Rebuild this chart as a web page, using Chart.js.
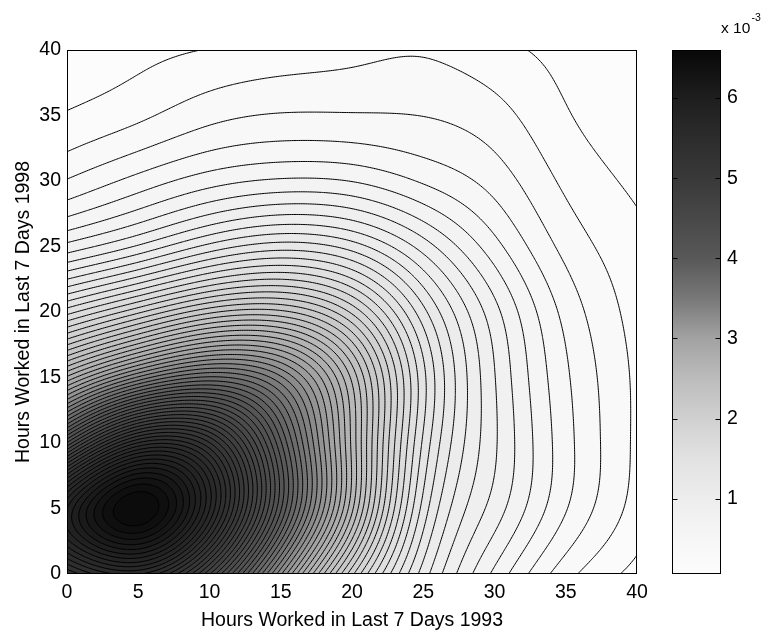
<!DOCTYPE html>
<html>
<head>
<meta charset="utf-8">
<script src="https://cdn.jsdelivr.net/npm/chart.js@4.4.0/dist/chart.umd.min.js"></script>
<style>
  html, body { margin: 0; padding: 0; background: #fff; }
  #wrap { position: relative; width: 770px; height: 630px; }
  #wrap canvas { position: absolute; left: 0; top: 0; }
</style>
</head>
<body>
<div id="wrap">
  <canvas id="main" width="770" height="630"></canvas>
  <canvas id="bar" width="770" height="630"></canvas>
</div>
<script>
const gridX = [0, 5, 10, 15, 20, 25, 30, 35, 40];
const gridY = [0, 5, 10, 15, 20, 25, 30, 35, 40];

// density (x 10^-3), one list per 1998 value, running over the 1993 values
const densityY0  = [5.2, 5.5, 4.7, 3.3, 2.0, 1.12, 0.64, 0.30, 0.13];
const densityY5  = [5.9, 6.6, 5.7, 4.1, 2.6, 1.33, 0.82, 0.47, 0.22];
const densityY10 = [4.4, 5.4, 5.2, 4.0, 2.65, 1.45, 0.88, 0.50, 0.24];
const densityY15 = [2.8, 3.4, 3.7, 3.4, 2.55, 1.5, 0.87, 0.48, 0.24];
const densityY20 = [1.63, 1.95, 2.25, 2.3, 1.95, 1.3, 0.80, 0.43, 0.22];
const densityY25 = [0.80, 0.98, 1.2, 1.32, 1.22, 0.92, 0.60, 0.33, 0.19];
const densityY30 = [0.37, 0.50, 0.62, 0.68, 0.66, 0.55, 0.42, 0.24, 0.14];
const densityY35 = [0.17, 0.24, 0.33, 0.37, 0.37, 0.36, 0.30, 0.17, 0.10];
const densityY40 = [0.08, 0.13, 0.165, 0.20, 0.23, 0.25, 0.19, 0.13, 0.07];
const densityRows = [densityY0, densityY5, densityY10, densityY15, densityY20,
                     densityY25, densityY30, densityY35, densityY40];

// axes
const axisTicks = [0, 5, 10, 15, 20, 25, 30, 35, 40];
const colorbarTicks = [1, 2, 3, 4, 5, 6];
const densityMin = 0.06;
const densityMax = 6.6;
const levelCount = 64;

// gray colormap (high density = dark)
const cmapValues = [0.06, 0.5, 1.0, 1.5, 2.0, 2.5, 3.0, 3.5, 4.0, 4.5, 5.0, 5.5, 6.0, 6.6];
const cmapGrays  = [252, 246, 237, 226, 208, 188, 162, 120, 88, 72, 57, 44, 30, 8];

const fontFamily = '"Liberation Sans", Arial, Helvetica, sans-serif';
const tickFont = { family: fontFamily, size: 19.5, lineHeight: 1.2 };
const titleFont = { family: fontFamily, size: 19.5, lineHeight: 1 };

// contour levels, evenly spaced inside the data range
const levelStep = (densityMax - densityMin) / (levelCount + 1);
const levels = [];
for (let i = 1; i <= levelCount; i++) levels.push(densityMin + i * levelStep);

function grayFor(v) {
  if (v <= cmapValues[0]) return cmapGrays[0];
  for (let i = 1; i < cmapValues.length; i++) {
    if (v <= cmapValues[i]) {
      const t = (v - cmapValues[i - 1]) / (cmapValues[i] - cmapValues[i - 1]);
      return cmapGrays[i - 1] + t * (cmapGrays[i] - cmapGrays[i - 1]);
    }
  }
  return cmapGrays[cmapGrays.length - 1];
}

// natural cubic spline helpers
function splineSecond(xs, ys) {
  const n = xs.length;
  const y2 = new Array(n).fill(0), u = new Array(n).fill(0);
  for (let i = 1; i < n - 1; i++) {
    const sig = (xs[i] - xs[i - 1]) / (xs[i + 1] - xs[i - 1]);
    const p = sig * y2[i - 1] + 2;
    y2[i] = (sig - 1) / p;
    u[i] = (ys[i + 1] - ys[i]) / (xs[i + 1] - xs[i]) - (ys[i] - ys[i - 1]) / (xs[i] - xs[i - 1]);
    u[i] = (6 * u[i] / (xs[i + 1] - xs[i - 1]) - sig * u[i - 1]) / p;
  }
  for (let k = n - 2; k >= 0; k--) y2[k] = y2[k] * y2[k + 1] + u[k];
  return y2;
}
function splineAt(xs, ys, y2, x) {
  let lo = 0, hi = xs.length - 1;
  while (hi - lo > 1) {
    const m = (hi + lo) >> 1;
    if (xs[m] > x) hi = m; else lo = m;
  }
  const h = xs[hi] - xs[lo];
  const a = (xs[hi] - x) / h, b = (x - xs[lo]) / h;
  return a * ys[lo] + b * ys[hi] + ((a * a * a - a) * y2[lo] + (b * b * b - b) * y2[hi]) * h * h / 6;
}

// smooth the read grid onto a fine sampling for drawing
const FINE = 321;
let fieldCache = null;
function fineField() {
  if (fieldCache) return fieldCache;
  const fx = [], fy = [];
  for (let i = 0; i < FINE; i++) {
    fx.push(gridX[0] + (gridX[gridX.length - 1] - gridX[0]) * i / (FINE - 1));
    fy.push(gridY[0] + (gridY[gridY.length - 1] - gridY[0]) * i / (FINE - 1));
  }
  const rows = densityRows.map(r => {
    const d2 = splineSecond(gridX, r);
    return fx.map(x => splineAt(gridX, r, d2, x));
  });
  const z = [];
  for (let k = 0; k < FINE; k++) z.push(new Float64Array(FINE));
  for (let i = 0; i < FINE; i++) {
    const col = rows.map(r => r[i]);
    const d2 = splineSecond(gridY, col);
    for (let k = 0; k < FINE; k++) {
      z[k][i] = Math.max(densityMin, splineAt(gridY, col, d2, fy[k]));
    }
  }
  fieldCache = { fx, fy, z };
  return fieldCache;
}

function bandIndex(v) {
  let k = Math.floor((v - densityMin) / levelStep);
  if (k < 0) k = 0;
  if (k > levelCount) k = levelCount;
  return k;
}

const contourPlugin = {
  id: 'contourFill',
  beforeDatasetsDraw(chart) {
    const { ctx, chartArea: a, scales } = chart;
    const xs = scales.x, ys = scales.y;
    const { fx, fy, z } = fineField();
    const step = fx[1] - fx[0];

    const bandGray = [];
    for (let k = 0; k <= levelCount; k++) bandGray.push(Math.round(grayFor(densityMin + k * levelStep)));

    // filled bands
    const left = Math.round(a.left), top = Math.round(a.top);
    const w = Math.round(a.right) - left, h = Math.round(a.bottom) - top;
    const off = document.createElement('canvas');
    off.width = w; off.height = h;
    const octx = off.getContext('2d');
    const img = octx.createImageData(w, h);
    const colIdx = new Int32Array(w), colT = new Float64Array(w);
    for (let px = 0; px < w; px++) {
      let f = (xs.getValueForPixel(left + px + 0.5) - fx[0]) / step;
      f = Math.min(Math.max(f, 0), FINE - 1.0001);
      colIdx[px] = Math.floor(f); colT[px] = f - colIdx[px];
    }
    for (let py = 0; py < h; py++) {
      let g = (ys.getValueForPixel(top + py + 0.5) - fy[0]) / step;
      g = Math.min(Math.max(g, 0), FINE - 1.0001);
      const k0 = Math.floor(g), tk = g - k0;
      const r0 = z[k0], r1 = z[k0 + 1];
      for (let px = 0; px < w; px++) {
        const i0 = colIdx[px], t = colT[px];
        const v = (r0[i0] * (1 - t) + r0[i0 + 1] * t) * (1 - tk) + (r1[i0] * (1 - t) + r1[i0 + 1] * t) * tk;
        const gray = bandGray[bandIndex(v)];
        const o = (py * w + px) * 4;
        img.data[o] = gray; img.data[o + 1] = gray; img.data[o + 2] = gray; img.data[o + 3] = 255;
      }
    }
    octx.putImageData(img, 0, 0);
    ctx.drawImage(off, left, top);

    // contour lines (marching squares on the fine sampling)
    const PX = fx.map(v => xs.getPixelForValue(v));
    const PY = fy.map(v => ys.getPixelForValue(v));
    ctx.save();
    ctx.beginPath();
    ctx.rect(a.left, a.top, a.right - a.left, a.bottom - a.top);
    ctx.clip();
    ctx.strokeStyle = '#000';
    ctx.lineWidth = 1;
    ctx.lineJoin = 'round';
    for (const L of levels) {
      ctx.beginPath();
      for (let k = 0; k < FINE - 1; k++) {
        const ra = z[k], rb = z[k + 1];
        for (let i = 0; i < FINE - 1; i++) {
          const v00 = ra[i], v10 = ra[i + 1], v11 = rb[i + 1], v01 = rb[i];
          const s00 = v00 >= L, s10 = v10 >= L, s11 = v11 >= L, s01 = v01 >= L;
          if (s00 === s10 && s10 === s11 && s11 === s01) continue;
          const pts = [];
          if (s00 !== s10) { const t = (L - v00) / (v10 - v00); pts.push([PX[i] + t * (PX[i + 1] - PX[i]), PY[k]]); }
          if (s10 !== s11) { const t = (L - v10) / (v11 - v10); pts.push([PX[i + 1], PY[k] + t * (PY[k + 1] - PY[k])]); }
          if (s01 !== s11) { const t = (L - v01) / (v11 - v01); pts.push([PX[i] + t * (PX[i + 1] - PX[i]), PY[k + 1]]); }
          if (s00 !== s01) { const t = (L - v00) / (v01 - v00); pts.push([PX[i], PY[k] + t * (PY[k + 1] - PY[k])]); }
          if (pts.length === 2) {
            ctx.moveTo(pts[0][0], pts[0][1]); ctx.lineTo(pts[1][0], pts[1][1]);
          } else if (pts.length === 4) {
            ctx.moveTo(pts[0][0], pts[0][1]); ctx.lineTo(pts[1][0], pts[1][1]);
            ctx.moveTo(pts[2][0], pts[2][1]); ctx.lineTo(pts[3][0], pts[3][1]);
          }
        }
      }
      ctx.stroke();
    }
    ctx.restore();
  },
  afterDraw(chart) {
    const { ctx, chartArea: a } = chart;
    ctx.save();
    ctx.strokeStyle = '#000';
    ctx.lineWidth = 1;
    ctx.strokeRect(Math.round(a.left) + 0.5, Math.round(a.top) + 0.5,
                   Math.round(a.right - a.left) - 1, Math.round(a.bottom - a.top) - 1);
    ctx.restore();
  }
};

// grid nodes as the (invisible) dataset of the scatter chart
const gridPoints = [];
gridY.forEach((y, j) => gridX.forEach((x, i) => gridPoints.push({ x: x, y: y, v: densityRows[j][i] })));

new Chart(document.getElementById('main'), {
  type: 'scatter',
  data: { datasets: [{ label: 'density', data: gridPoints, pointRadius: 0, showLine: false }] },
  options: {
    responsive: false,
    animation: false,
    events: [],
    layout: { padding: { left: 0, top: 50, right: 133, bottom: 0 } },
    plugins: { legend: { display: false }, tooltip: { enabled: false } },
    scales: {
      x: {
        type: 'linear', min: 0, max: 40, position: 'bottom',
        grid: { display: false, drawTicks: false },
        border: { display: false },
        ticks: { font: tickFont, color: '#000', padding: 7, maxRotation: 0, autoSkip: false },
        title: { display: true, text: 'Hours Worked in Last 7 Days 1993', font: titleFont, color: '#000', padding: { top: 0, bottom: 0 } },
        afterBuildTicks: s => { s.ticks = axisTicks.map(v => ({ value: v })); },
        afterFit: s => { s.height = 56; }
      },
      y: {
        type: 'linear', min: 0, max: 40, position: 'left',
        grid: { display: false, drawTicks: false },
        border: { display: false },
        ticks: { font: tickFont, color: '#000', padding: 6, autoSkip: false },
        title: { display: true, text: 'Hours Worked in Last 7 Days 1998', font: titleFont, color: '#000', padding: { top: 14, bottom: 0 } },
        afterBuildTicks: s => { s.ticks = axisTicks.map(v => ({ value: v })); },
        afterFit: s => { s.width = 67; }
      }
    }
  },
  plugins: [contourPlugin]
});

// colorbar
const colorbarPlugin = {
  id: 'colorbarFrame',
  afterDraw(chart) {
    const { ctx, chartArea: a, scales } = chart;
    const ys = scales.y;
    ctx.save();
    ctx.strokeStyle = '#000';
    ctx.lineWidth = 1;
    const l = Math.round(a.left) + 0.5, r = Math.round(a.right) - 0.5;
    ctx.strokeRect(l, Math.round(a.top) + 0.5, r - l, Math.round(a.bottom - a.top) - 1);
    ctx.beginPath();
    colorbarTicks.forEach(v => {
      const y = Math.round(ys.getPixelForValue(v)) + 0.5;
      ctx.moveTo(l, y); ctx.lineTo(l + 5, y);
      ctx.moveTo(r, y); ctx.lineTo(r - 5, y);
    });
    ctx.stroke();
    ctx.fillStyle = '#000';
    ctx.textBaseline = 'alphabetic';
    ctx.textAlign = 'left';
    ctx.font = '15.5px ' + fontFamily;
    ctx.fillText('x 10', r + 0.5, 33);
    ctx.font = '10.5px ' + fontFamily;
    ctx.fillText('-3', r + 31, 21);
    ctx.restore();
  }
};

new Chart(document.getElementById('bar'), {
  type: 'bar',
  data: {
    labels: [''],
    datasets: [{
      label: 'colormap',
      data: [[densityMin, densityMax]],
      borderWidth: 0,
      barPercentage: 1,
      categoryPercentage: 1,
      backgroundColor: c => {
        const chart = c.chart;
        const a = chart.chartArea;
        if (!a) return '#888';
        const ys = chart.scales.y;
        const y0 = ys.getPixelForValue(densityMin), y1 = ys.getPixelForValue(densityMax);
        const g = chart.ctx.createLinearGradient(0, y0, 0, y1);
        cmapValues.forEach((v, i) => {
          const s = cmapGrays[i];
          g.addColorStop((v - densityMin) / (densityMax - densityMin), `rgb(${s},${s},${s})`);
        });
        return g;
      }
    }]
  },
  options: {
    responsive: false,
    animation: false,
    events: [],
    layout: { padding: { left: 672, top: 50, right: 0, bottom: 56 } },
    plugins: { legend: { display: false }, tooltip: { enabled: false } },
    scales: {
      x: { display: false },
      y: {
        position: 'right', min: densityMin, max: densityMax,
        grid: { display: false, drawTicks: false },
        border: { display: false },
        ticks: { font: tickFont, color: '#000', padding: 6 },
        afterBuildTicks: s => { s.ticks = colorbarTicks.map(v => ({ value: v })); },
        afterFit: s => { s.width = 49; }
      }
    }
  },
  plugins: [colorbarPlugin]
});
</script>
</body>
</html>
